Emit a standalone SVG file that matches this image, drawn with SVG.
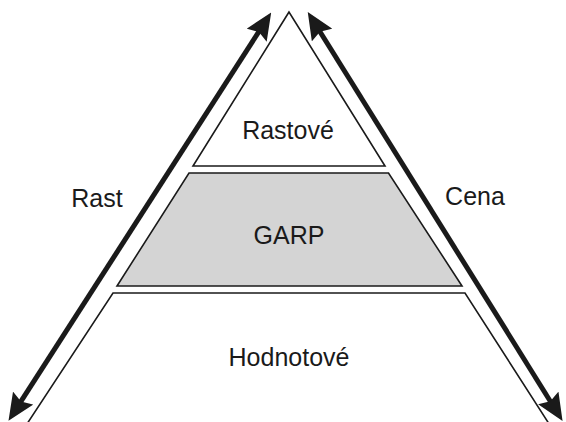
<svg xmlns="http://www.w3.org/2000/svg" width="566" height="422" viewBox="0 0 566 422">
  <style>
    .tier { stroke: #1a1a1a; stroke-width: 1.6; stroke-linejoin: miter; }
    .blank { fill: #ffffff; }
    .shaded { fill: #d4d4d4; }
    .label { font-family: "Liberation Sans", Arial, sans-serif; font-size: 25px; fill: #1a1a1a; text-anchor: middle; }
    .axis { stroke: #1a1a1a; stroke-width: 5; fill: none; }
  </style>
  <defs>
    <!-- filled arrowhead with a shallow notch at the back -->
    <marker id="head" viewBox="0 0 27 24" refX="15" refY="12" markerWidth="27" markerHeight="24" orient="auto-start-reverse" markerUnits="userSpaceOnUse">
      <path d="M0,0 L27,12 L0,24 L4,12 Z" fill="#1a1a1a"/>
    </marker>
  </defs>
  <rect width="566" height="422" fill="#ffffff"/>

  <g id="tier-top">
    <polygon class="tier blank" points="289,12 193,166 385,166"/>
    <text class="label" x="288" y="139">Rastové</text>
  </g>

  <g id="tier-middle">
    <polygon class="tier shaded" points="189,173 388.5,173 462,286 117,286"/>
    <text class="label" x="289" y="244">GARP</text>
  </g>

  <g id="tier-bottom">
    <polygon class="tier blank" points="113,293 465,293 553,430 23,430"/>
    <text class="label" x="289" y="366">Hodnotové</text>
  </g>

  <g id="connectors">
    <line class="axis" x1="15" y1="410.7" x2="264.7" y2="22.6" marker-start="url(#head)" marker-end="url(#head)"/>
    <line class="axis" x1="314.1" y1="22.3" x2="556.2" y2="410.7" marker-start="url(#head)" marker-end="url(#head)"/>
  </g>

  <g id="side-labels">
    <text class="label" x="97" y="207">Rast</text>
    <text class="label" x="475" y="205">Cena</text>
  </g>
</svg>
